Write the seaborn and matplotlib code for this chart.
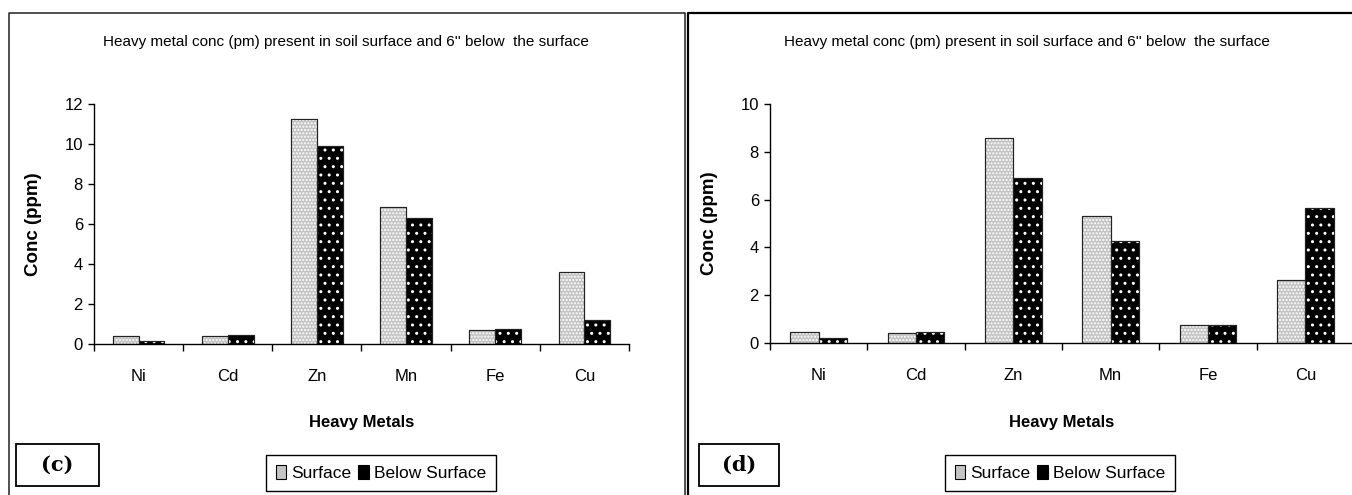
import numpy as np
import pandas as pd
import matplotlib
matplotlib.use("Agg")
import matplotlib.pyplot as plt
import seaborn as sns
from matplotlib import font_manager as fm
from matplotlib.patches import Rectangle, Patch
from matplotlib.lines import Line2D

# ---------------- data ----------------
metals = ["Ni", "Cd", "Zn", "Mn", "Fe", "Cu"]
series = ["Surface", "Below Surface"]
c_surface = [0.38, 0.38, 11.25, 6.83, 0.72, 3.60]
c_below = [0.13, 0.45, 9.92, 6.29, 0.75, 1.18]
d_surface = [0.47, 0.40, 8.58, 5.31, 0.77, 2.63]
d_below = [0.22, 0.45, 6.92, 4.28, 0.74, 5.63]
c_yticks = [0, 2, 4, 6, 8, 10, 12]
d_yticks = [0, 2, 4, 6, 8, 10]
title_text = "Heavy metal conc (pm) present in soil surface and 6'' below  the surface"
ylabel_text = "Conc (ppm)"
xlabel_text = "Heavy Metals"
panel_labels = ["(c)", "(d)"]

# ---------------- style ----------------
sns.set_theme(style="ticks", rc={
    "axes.edgecolor": "black", "text.color": "black",
    "xtick.color": "black", "ytick.color": "black",
    "axes.labelcolor": "black", "hatch.linewidth": 1.0,
})
plt.rcParams["font.family"] = ["Liberation Sans", "DejaVu Sans"]

W, H = 1352, 495
fig = plt.figure(figsize=(W / 100, H / 100), dpi=100)


def fx(px):
    return px / W


def fy(py):
    return 1 - py / H


def make_df(s, b):
    return pd.DataFrame({
        "metal": metals * 2,
        "series": [series[0]] * len(metals) + [series[1]] * len(metals),
        "value": list(s) + list(b),
    })


panels = [
    dict(df=make_df(c_surface, c_below), x0=94, x1=629, ytop=104, y0=344, ymax=12, yticks=c_yticks,
         title_x=346, ylab_x=42, leg_x=381, box=(16, 444, 99, 486), label=panel_labels[0]),
    dict(df=make_df(d_surface, d_below), x0=770, x1=1354, ytop=104, y0=343, ymax=10, yticks=d_yticks,
         title_x=1027, ylab_x=718, leg_x=1060, box=(699, 444, 779, 486), label=panel_labels[1]),
]

surf_face = "#c4c4c4"
for p in panels:
    ax = fig.add_axes([fx(p["x0"]), fy(p["y0"]), (p["x1"] - p["x0"]) / W, (p["y0"] - p["ytop"]) / H])
    sns.barplot(data=p["df"], x="metal", y="value", hue="series", order=metals, hue_order=series,
                palette={series[0]: surf_face, series[1]: "black"}, saturation=1,
                width=0.58, gap=0, edgecolor="#222222", linewidth=0.8, legend=False, ax=ax)
    # dotted patterns
    for i, cont in enumerate(ax.containers):
        for bar in cont:
            ax.add_patch(Rectangle(bar.get_xy(), bar.get_width(), bar.get_height(), fill=False,
                                   hatch="....." if i == 0 else "..",
                                   edgecolor="white", lw=0, zorder=bar.get_zorder() + 0.1))
            ax.add_patch(Rectangle(bar.get_xy(), bar.get_width(), bar.get_height(), fill=False,
                                   edgecolor="#222222", lw=0.8, zorder=bar.get_zorder() + 0.2))
    ax.set_xlim(-0.5, len(metals) - 0.5)
    ax.set_ylim(0, p["ymax"])
    ax.set_yticks(p["yticks"])
    ax.set_xticks(range(len(metals)))
    ax.set_xticklabels(metals)
    ax.set_xticks(np.arange(-0.5, len(metals), 1), minor=True)
    sns.despine(ax=ax)
    for s in ["left", "bottom"]:
        ax.spines[s].set_linewidth(1.0)
    ax.tick_params(axis="y", direction="out", length=4, width=1, pad=4, labelsize=12)
    ax.tick_params(axis="x", which="major", length=0, pad=18, labelsize=12)
    ax.tick_params(axis="x", which="minor", direction="out", length=5, width=1)
    ax.set_xlabel(xlabel_text, fontsize=12, fontweight="bold")
    ax.xaxis.set_label_coords(0.5, -(415 - p["y0"]) / (p["y0"] - p["ytop"]))
    ax.set_ylabel(ylabel_text, fontsize=13.5, fontweight="bold")
    ax.yaxis.set_label_coords((p["ylab_x"] - p["x0"]) / (p["x1"] - p["x0"]), 0.5)
    fig.text(fx(p["title_x"]), fy(42), title_text, ha="center", va="center", fontsize=11)
    # legend
    handles = [Patch(facecolor=surf_face, edgecolor="black", lw=0.8),
               Patch(facecolor="black", edgecolor="black", lw=0.8)]
    leg = fig.legend(handles, series, loc="center", bbox_to_anchor=(fx(p["leg_x"]), fy(473)), ncol=2,
                     frameon=True, fancybox=False, edgecolor="black", framealpha=1,
                     handlelength=0.6, handleheight=0.9, handletextpad=0.3, columnspacing=0.4,
                     borderpad=0.55, fontsize=12.5)
    leg.get_frame().set_linewidth(1.0)
    # panel label box
    bx0, by0, bx1, by1 = p["box"]
    fig.patches.append(Rectangle((fx(bx0), fy(by1)), (bx1 - bx0) / W, (by1 - by0) / H, fill=False,
                                 edgecolor="black", lw=1.3, transform=fig.transFigure, figure=fig))
    fig.text(fx((bx0 + bx1) / 2), fy((by0 + by1) / 2), p["label"], ha="center", va="center",
             fontsize=15, fontweight="bold", family=["DejaVu Serif"])

# panel frames
def fline(xs, ys, lw, color="black"):
    fig.lines.append(Line2D([fx(x) for x in xs], [fy(y) for y in ys], lw=lw, color=color,
                            transform=fig.transFigure, figure=fig))

fline([8.5, 8.5, 684.5, 684.5], [H, 13, 13, H], 1.1, "#202020")
fline([688, 688, W], [H, 13, 13], 1.6)

fig.savefig("out.png", dpi=100)
